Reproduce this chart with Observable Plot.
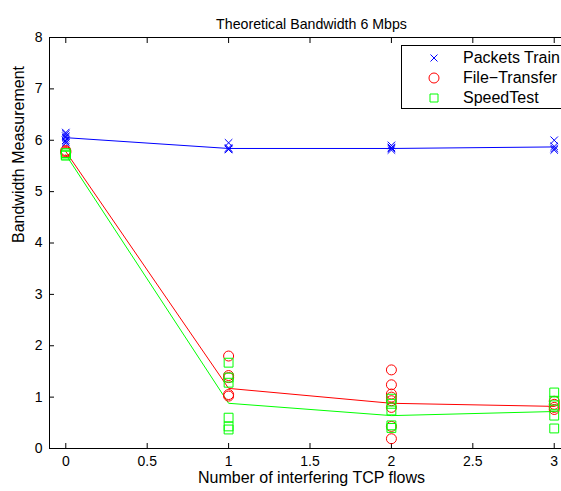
<!DOCTYPE html>
<html>
<head>
<meta charset="utf-8">
<script src="https://cdn.jsdelivr.net/npm/d3@7"></script>
<script src="https://cdn.jsdelivr.net/npm/@observablehq/plot@0.6"></script>
<style>
  html, body { margin: 0; padding: 0; background: #fff; overflow: hidden; }
  #wrap { position: relative; width: 561px; height: 491px; overflow: hidden; font-family: "Liberation Sans", Arial, sans-serif; }
  #legend { position: absolute; left: 401px; top: 45px; width: 180px; height: 64px; border: 1px solid #000; background: #fff; box-sizing: border-box; font-size: 16px; }
  #legend .row { position: absolute; left: 0; height: 20px; line-height: 20px; white-space: nowrap; }
  #legend svg { position: absolute; left: 26px; top: 4px; }
  #legend span { position: absolute; left: 61px; top: 0; }
</style>
</head>
<body>
<div id="wrap"></div>
<script>
// Data
const flows = [0, 1, 2, 3];
const xTicks = [0, 0.5, 1, 1.5, 2, 2.5, 3];
const yTicks = [0, 1, 2, 3, 4, 5, 6, 7, 8];
const seriesNames = ["Packets Train", "File\u2212Transfer", "SpeedTest"];
const seriesColors = ["#0000ff", "#ff0000", "#00ff00"];
const seriesSymbols = ["times", "circle", "square"];

const packetsMean = [6.05, 5.84, 5.84, 5.87];
const fileMean = [5.78, 1.17, 0.88, 0.82];
const speedMean = [5.72, 0.88, 0.64, 0.72];

const packetsRuns = [
  [6.15, 6.12, 6.08, 6.05, 6.0, 5.97, 5.94],
  [5.95, 5.85, 5.83, 5.82],
  [5.9, 5.86, 5.84, 5.81],
  [6.0, 5.88, 5.84, 5.81]
];
const fileRuns = [
  [5.8, 5.78, 5.76],
  [1.8, 1.42, 1.38, 1.05, 1.02],
  [1.53, 1.24, 1.06, 1.0, 0.93, 0.8, 0.43, 0.19],
  [0.92, 0.86, 0.8, 0.76]
];
const speedRuns = [
  [5.75, 5.72, 5.7],
  [1.67, 1.38, 1.28, 0.6, 0.43, 0.37],
  [0.97, 0.87, 0.74, 0.45, 0.4],
  [1.09, 0.93, 0.84, 0.64, 0.39]
];

const means = [packetsMean, fileMean, speedMean];
const runs = [packetsRuns, fileRuns, speedRuns];

const lineData = [];
const pointData = [];
means.forEach((m, s) => m.forEach((v, i) => lineData.push({series: s, x: flows[i], y: v})));
runs.forEach((r, s) => r.forEach((vals, i) => vals.forEach(v => pointData.push({series: s, x: flows[i], y: v}))));

const font = "Liberation Sans, Arial, sans-serif";

const marks = [
  Plot.ruleY([0, 8], {stroke: "#000", strokeWidth: 1}),
  Plot.ruleX([-0.1], {stroke: "#000", strokeWidth: 1}),
  Plot.axisX(xTicks, {anchor: "bottom", tickSize: -5, tickPadding: 13, fontSize: 14, tickFormat: d => String(d), label: null}),
  Plot.axisX(xTicks, {anchor: "top", tickSize: -5, tickFormat: () => "", label: null}),
  Plot.axisY(yTicks, {anchor: "left", tickSize: -5, tickPadding: 12, fontSize: 14, tickFormat: d => String(d), label: null}),
];
[0, 1, 2].forEach(s => {
  marks.push(Plot.line(lineData.filter(d => d.series === s), {x: "x", y: "y", stroke: seriesColors[s], strokeWidth: 1}));
});
[0, 1, 2].forEach(s => {
  marks.push(Plot.dot(pointData.filter(d => d.series === s), {
    x: "x", y: "y", symbol: () => seriesSymbols[s],
    stroke: seriesColors[s], fill: "none", strokeWidth: 1,
    r: s === 0 ? 3.5 : 5
  }));
});
marks.push(Plot.text(["Theoretical Bandwidth 6 Mbps"], {frameAnchor: "top", dx: 6, dy: -19, fontSize: 14.2, fill: "#000"}));
marks.push(Plot.text(["Number of interfering TCP flows"], {frameAnchor: "bottom", dx: 6, dy: 34, fontSize: 16, fill: "#000"}));
marks.push(Plot.text(["Bandwidth Measurement"], {frameAnchor: "left", dx: -31, rotate: -90, fontSize: 16, fill: "#000"}));

const chart = Plot.plot({
  width: 561,
  height: 491,
  marginLeft: 49,
  marginRight: 0,
  marginTop: 37,
  marginBottom: 43,
  style: {fontFamily: font, fontSize: "13px", background: "#fff", overflow: "visible"},
  x: {domain: [-0.1, 3.1], range: [49, 570], axis: null},
  y: {domain: [0, 8], axis: null},
  symbol: {type: "identity"},
  marks
});
document.getElementById("wrap").appendChild(chart);

// Legend
const legend = document.createElement("div");
legend.id = "legend";
seriesNames.forEach((name, i) => {
  const row = document.createElement("div");
  row.className = "row";
  row.style.top = (2 + i * 20) + "px";
  const sym = d3.create("svg").attr("width", 12).attr("height", 12);
  const g = sym.append("path")
    .attr("transform", "translate(6,6)")
    .attr("fill", "none")
    .attr("stroke", seriesColors[i])
    .attr("stroke-width", 1);
  if (i === 0) g.attr("d", "M-3.5,-3.5L3.5,3.5M-3.5,3.5L3.5,-3.5");
  else if (i === 1) g.attr("d", d3.symbol(d3.symbolCircle, Math.PI * 25)());
  else g.attr("d", "M-4,-4H4V4H-4Z");
  row.appendChild(sym.node());
  const span = document.createElement("span");
  span.textContent = name;
  row.appendChild(span);
  legend.appendChild(row);
});
document.getElementById("wrap").appendChild(legend);
</script>
</body>
</html>
